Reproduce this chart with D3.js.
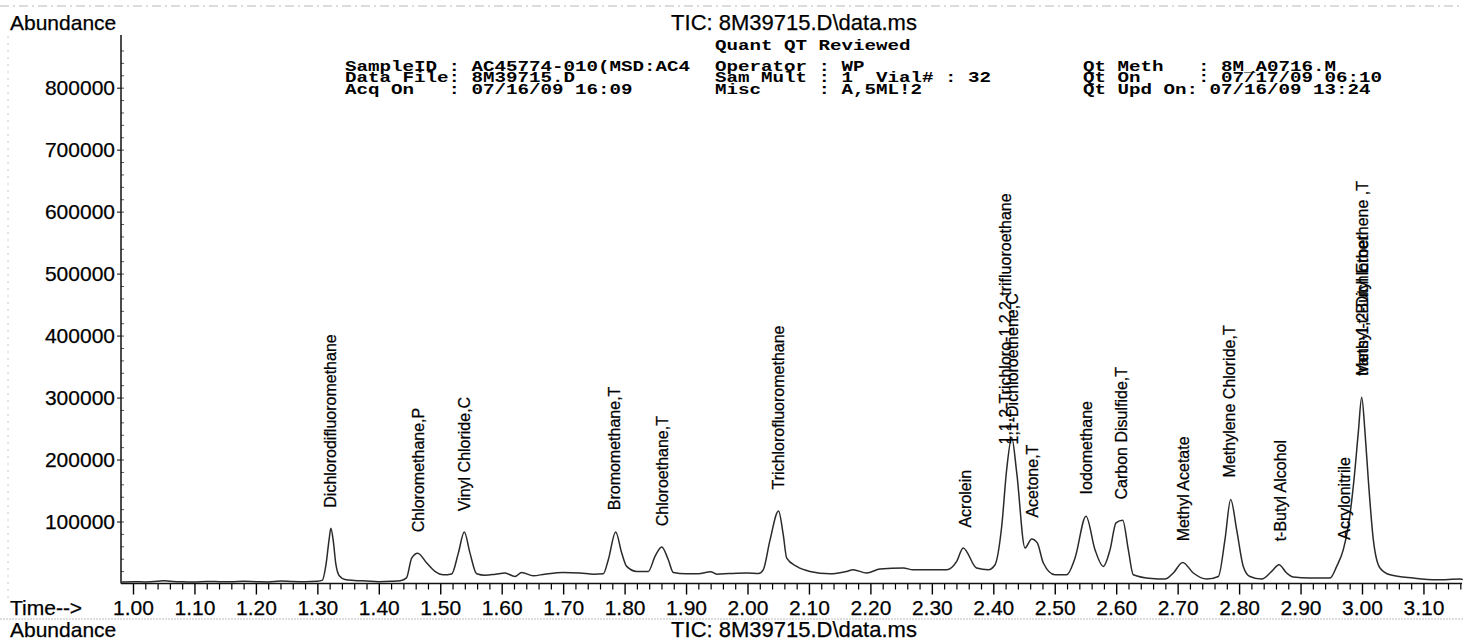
<!DOCTYPE html>
<html>
<head>
<meta charset="utf-8">
<script src="https://cdn.jsdelivr.net/npm/d3@7"></script>
<style>
  body { margin: 0; background: #fff; }
  svg { display: block; }
  text { font-family: "Liberation Sans", Arial, sans-serif; fill: #000; stroke: #000; stroke-width: 0.25px; }
  .mono { font-family: "Liberation Mono", "DejaVu Sans Mono", monospace; font-weight: bold; white-space: pre; stroke: none; }
</style>
</head>
<body>
<div id="chart"></div>
<script>
// TIC trace (retention time in minutes, abundance)
var traceTime = [0.982, 1.00, 1.02, 1.04, 1.05, 1.06, 1.08, 1.10, 1.12, 1.14, 1.16, 1.18, 1.20, 1.22, 1.24, 1.26, 1.28, 1.30,
  1.308, 1.314, 1.319, 1.322, 1.326, 1.330, 1.336, 1.345, 1.36, 1.38, 1.40, 1.42, 1.435,
  1.445, 1.4535, 1.4633, 1.478, 1.4915, 1.505, 1.5186, 1.5294, 1.5391, 1.5484, 1.5593, 1.573, 1.59, 1.6054, 1.6216,
  1.6325, 1.6514, 1.67, 1.70, 1.7274, 1.75, 1.7653, 1.7735, 1.7855, 1.7953, 1.8034, 1.8197, 1.8386, 1.8495, 1.8604,
  1.8711, 1.8793, 1.90, 1.92, 1.94, 1.95, 1.97, 2.00, 2.018, 2.0256, 2.0366, 2.0505, 2.058, 2.0638, 2.080, 2.1016,
  2.1343, 2.161, 2.1717, 2.194, 2.2156, 2.2535, 2.2693, 2.3241, 2.3404, 2.351, 2.3728, 2.3919, 2.4028, 2.4137, 2.4218,
  2.43, 2.4381, 2.4516, 2.4625, 2.4716, 2.4814, 2.5004, 2.5194, 2.533, 2.5509, 2.5655, 2.579, 2.59, 2.5997, 2.6106,
  2.6197, 2.6278, 2.6578, 2.6794, 2.6929, 2.7082, 2.7255, 2.7472, 2.7662, 2.777, 2.7863, 2.796, 2.8068, 2.8177, 2.8367,
  2.853, 2.8649, 2.8774, 2.8882, 2.9154, 2.9479, 2.9588, 2.9696, 2.9777, 2.987, 2.994, 2.9995, 3.0049, 3.0102, 3.0184,
  3.0293, 3.0456, 3.0835, 3.1216, 3.1595, 3.164];
var traceAbundance = [2500, 3000, 2500, 3500, 4500, 3800, 2800, 2500, 3200, 3000, 2800, 3500, 3000, 2600, 4000, 3200, 2800, 3500,
  5000, 30000, 70000, 89000, 68000, 32000, 12000, 6500, 5000, 4000, 3000, 3500, 4500,
  9000, 41000, 49000, 33000, 19500, 14000, 15500, 49000, 83000, 49000, 15700, 13300, 15000, 16900, 11300,
  17800, 12500, 15000, 17800, 16900, 15000, 15700, 38400, 83000, 49300, 27600, 19500, 19500, 43800, 59000,
  38400, 17800, 15700, 15700, 19000, 15000, 16000, 17000, 16000, 22000, 70000, 117000, 80000, 41000, 27600, 19500,
  15700, 19500, 22200, 16900, 23300, 25000, 22200, 22200, 35700, 57400, 25000, 22200, 30300, 92400, 184300,
  235700, 179000, 57400, 72000, 65500, 33100, 14100, 14100, 41200, 108600, 54600, 27600, 54600, 97900, 102100,
  54600, 14100, 8000, 7100, 16900, 34000, 16900, 7100, 11300, 70800, 135700, 87000, 27600, 11300, 7100,
  19500, 30300, 16900, 10400, 8800, 8800, 27600, 54600, 92400, 168100, 243800, 300500, 243800, 168100, 70800,
  25000, 14100, 8800, 6000, 7100, 6500];

// compound labels: retention time and the abundance they are hung from
var peakNames = ["Dichlorodifluoromethane", "Chloromethane,P", "Vinyl Chloride,C", "Bromomethane,T", "Chloroethane,T",
  "Trichlorofluoromethane", "Acrolein", "1,1,2-Trichloro-1,2,2-trifluoroethane", "1,1-Dichloroethene,C", "Acetone,T",
  "Iodomethane", "Carbon Disulfide,T", "Methyl Acetate", "Methylene Chloride,T", "t-Butyl Alcohol", "Acrylonitrile",
  "Methyl-t-Butyl Ether", "trans-1,2-Dichloroethene ,T"];
var peakTimes = [1.322, 1.464, 1.540, 1.784, 1.861, 2.050, 2.355, 2.420, 2.431, 2.463, 2.551, 2.609, 2.709, 2.785,
  2.867, 2.971, 3.000, 3.001];
var labelAbundance = [90000, 50300, 84300, 85900, 60000, 119500, 57900, 192000, 192000, 74100, 111400, 103300,
  35700, 138900, 35700, 38300, 303000, 303000];

var yTickValues = [100000, 200000, 300000, 400000, 500000, 600000, 700000, 800000];
var xTickLabels = ["1.00", "1.10", "1.20", "1.30", "1.40", "1.50", "1.60", "1.70", "1.80", "1.90", "2.00",
  "2.10", "2.20", "2.30", "2.40", "2.50", "2.60", "2.70", "2.80", "2.90", "3.00", "3.10"];

// header block from the data system
var headerLeft = ["SampleID : AC45774-010(MSD:AC4", "Data File: 8M39715.D", "Acq On   : 07/16/09 16:09"];
var headerMid = ["Quant QT Reviewed", "Operator : WP", "Sam Mult : 1  Vial# : 32", "Misc     : A,5ML!2"];
var headerRight = ["Qt Meth   : 8M_A0716.M", "Qt On     : 07/17/09 06:10", "Qt Upd On: 07/16/09 13:24"];
var titleText = "TIC: 8M39715.D\\data.ms";

var width = 1463, height = 641;
var svg = d3.select("#chart").append("svg").attr("width", width).attr("height", height);

var x = d3.scaleLinear().domain([1, 3]).range([133, 1362]);
var y = d3.scaleLinear().domain([0, 885000]).range([583.5, 35]);
var axisLeftX = 121, axisRightX = 1462;

// faint scan artefacts (page borders)
svg.append("line").attr("x1", 0).attr("x2", width).attr("y1", 6).attr("y2", 6)
  .attr("stroke", "#b8b8b8").attr("stroke-dasharray", "9,4,2,4");
svg.append("line").attr("x1", 0).attr("x2", width).attr("y1", 619).attr("y2", 619)
  .attr("stroke", "#bdbdbd").attr("stroke-dasharray", "2,1");
svg.append("line").attr("x1", 8).attr("x2", 8).attr("y1", 36).attr("y2", 600)
  .attr("stroke", "#c8c8c8").attr("stroke-dasharray", "2,5");

// titles
svg.append("text").text("Abundance").attr("x", 10).attr("y", 30).attr("font-size", 21);
svg.append("text").text(titleText).attr("x", 794).attr("y", 30).attr("font-size", 22).attr("text-anchor", "middle");
svg.append("text").text("Time-->").attr("x", 10).attr("y", 615).attr("font-size", 21);
svg.append("text").text("Abundance").attr("x", 10).attr("y", 637).attr("font-size", 21);
svg.append("text").text(titleText).attr("x", 794).attr("y", 637).attr("font-size", 22).attr("text-anchor", "middle");

// header columns, monospaced and stretched like the printout
var charW = 11.5;
function headerColumn(lines, x0, y0) {
  lines.forEach(function (line, i) {
    svg.append("text").attr("class", "mono")
      .attr("x", x0).attr("y", y0 + i * 11.3)
      .attr("font-size", 14)
      .attr("textLength", line.length * charW)
      .attr("lengthAdjust", "spacingAndGlyphs")
      .text(line);
  });
}
headerColumn(headerMid.slice(0, 1), 715, 50);
headerColumn(headerLeft, 345, 71);
headerColumn(headerMid.slice(1), 715, 71);
headerColumn(headerRight, 1083, 71);

// y axis
var yAxis = d3.axisLeft(y).tickValues(yTickValues).tickSize(4).tickPadding(2).tickFormat(d3.format("d"));
var gy = svg.append("g").attr("transform", "translate(" + axisLeftX + ",0)").call(yAxis);
gy.select(".domain").remove();
gy.selectAll("text").attr("font-size", 21).attr("font-family", "Liberation Sans, Arial, sans-serif").attr("fill", "#000");
var yMinor = d3.axisLeft(y).tickValues(d3.range(20000, 880000, 20000)).tickSize(-3).tickFormat("");
var gym = svg.append("g").attr("transform", "translate(" + axisLeftX + ",0)").call(yMinor);
gym.select(".domain").remove();
gym.selectAll("line").attr("stroke", "#555");
svg.append("line").attr("x1", axisLeftX).attr("x2", axisLeftX).attr("y1", 35).attr("y2", y(0))
  .attr("stroke", "#111").attr("stroke-width", 1.5);

// x axis
var majorTicks = xTickLabels.map(Number);
var xAxis = d3.axisBottom(x).tickValues(majorTicks).tickSize(11).tickPadding(5.6)
  .tickFormat(function (d, i) { return xTickLabels[i]; });
var gx = svg.append("g").attr("transform", "translate(0," + y(0) + ")").call(xAxis);
gx.select(".domain").remove();
gx.selectAll("text").attr("font-size", 21).attr("font-family", "Liberation Sans, Arial, sans-serif").attr("fill", "#000");
gx.selectAll("line").attr("stroke-width", 1.4);
var minorTicks = d3.range(1.02, 3.17, 0.02).filter(function (d) { return Math.round(d * 100) % 10 !== 0; });
var xMinor = d3.axisBottom(x).tickValues(minorTicks).tickSize(6).tickFormat("");
var gxm = svg.append("g").attr("transform", "translate(0," + y(0) + ")").call(xMinor);
gxm.select(".domain").remove();
gxm.selectAll("line").attr("stroke-width", 1.2);
svg.append("line").attr("x1", axisLeftX).attr("x2", axisRightX).attr("y1", y(0)).attr("y2", y(0))
  .attr("stroke", "#111").attr("stroke-width", 1.5);

// chromatogram
var trace = traceTime.map(function (t, i) { return [t, traceAbundance[i]]; });
var line = d3.line().curve(d3.curveMonotoneX)
  .x(function (d) { return x(d[0]); }).y(function (d) { return y(d[1]); });
svg.append("path").datum(trace).attr("d", line)
  .attr("fill", "none").attr("stroke", "#2a2a2a").attr("stroke-width", 1.5).attr("stroke-linejoin", "round");

// compound labels
peakNames.forEach(function (name, i) {
  svg.append("text").text(name)
    .attr("transform", "translate(" + x(peakTimes[i]) + "," + (y(labelAbundance[i]) - 20) + ") rotate(-90)")
    .attr("dy", "0.35em")
    .attr("font-size", 16);
});
</script>
</body>
</html>
